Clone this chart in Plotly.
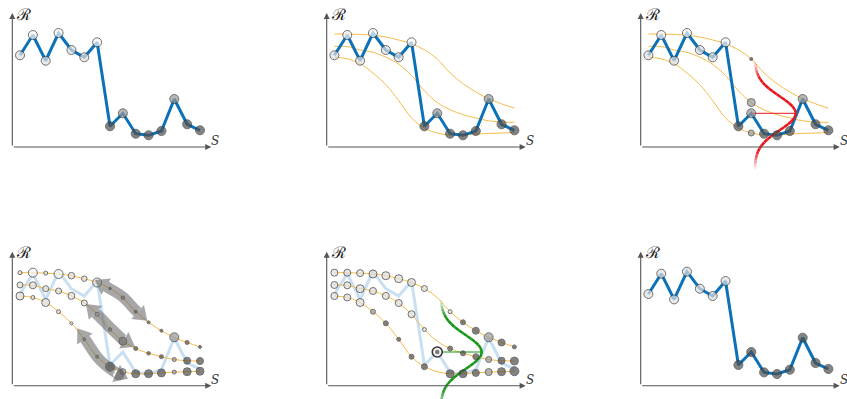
import numpy as np
import plotly.graph_objects as go

# ---------------- data ----------------
S = list(range(1, 16))
R_obs = [91.7, 112.0, 86.3, 114.0, 97.0, 89.7, 104.7, 20.7, 33.7, 13.3, 11.7, 16.0, 48.0, 22.7, 16.7]
tone_obs = [1, 0, 1, 0, 1, 1, 0, 3, 2, 3, 3, 3, 2, 3, 3]      # 0 white, 1 light, 2 mid, 3 dark
tone_final = [1, 1, 1, 1, 1, 1, 1, 3, 3, 3, 3, 3, 3, 3, 3]

curve_top = [113.0, 113.0, 112.6, 111.7, 110.0, 107.0, 103.2, 97.2, 88.0, 74.0, 63.4, 55.0, 48.4, 43.2, 38.8]
curve_mid = [100.7, 100.4, 97.0, 94.7, 89.8, 82.7, 71.5, 56.2, 44.5, 37.2, 32.4, 29.0, 26.2, 25.0, 24.7]
curve_bot = [89.7, 88.2, 83.2, 74.0, 62.4, 46.4, 29.0, 19.0, 14.0, 12.0, 12.0, 12.8, 13.6, 14.0, 14.5]

# panel 4 particle weights / tones
w4_top = [4, 9, 4, 9, 6.5, 5.5, 9, 2.5, 3.5, 3, 3, 3, 9, 4, 3]
t4_top = [1, 0, 1, 0, 1, 1, 1, 3, 2, 3, 3, 3, 2, 3, 3]
w4_mid = [6, 7, 6, 6, 7, 6, 4, 3.5, 8, 4, 3.5, 4, 4, 7, 7]
t4_mid = [1, 1, 1, 1, 1, 1, 1, 2, 2, 3, 3, 3, 2, 3, 3]
w4_bot = [8, 4, 8, 4, 3, 3, 3, 9, 6, 8, 8, 8, 4, 8, 8]
t4_bot = [1, 1, 1, 1, 1, 2, 2, 3, 2, 3, 3, 3, 2, 3, 3]

# panel 5 particle weights / tones
w5_top = [7, 7, 7, 8, 8, 8, 8, 6, 0, 4, 5, 7, 9, 7, 4]
t5_top = [1, 1, 1, 1, 1, 1, 1, 1, 1, 1, 3, 3, 2, 3, 3]
w5_mid = [7, 7, 8, 7, 7, 7, 7, 4, 0, 5, 5, 6, 6, 7, 8]
t5_mid = [1, 1, 1, 1, 1, 1, 1, 1, 1, 3, 3, 3, 2, 3, 3]
w5_bot = [7, 7, 8, 5, 5, 4, 5, 6, 0, 8, 8, 7, 7, 8, 9]
t5_bot = [1, 1, 1, 2, 3, 3, 3, 3, 3, 3, 3, 3, 2, 3, 3]

# panel 3 candidates at step 9 (top, mid, bottom)
cand_step = 9
w3_cand = [3, 8, 6]
t3_cand = [3, 2, 2]

# panel 4 curved exchange arrows (S, R)
arrowA_S = [6.83, 8.0, 9.0, 9.95, 10.9]
arrowA_R = [105.7, 96.8, 88.8, 76.0, 65.0]
arrowB_S = [6.13, 7.22, 8.26, 9.03, 9.95]
arrowB_R = [81.7, 68.4, 55.0, 45.7, 39.0]
arrowC_S = [5.46, 6.2, 7.1, 8.0, 8.7, 9.4]
arrowC_R = [57.4, 44.0, 27.4, 17.0, 11.0, 7.0]

# observation-likelihood gaussian (panels 3, 5)
gauss_sd = 17.0
gauss_base_S = 9.27
gauss_peak_S = 12.46

# ---------------- geometry ----------------
W, H = 847, 399
K = 12.857                     # px per S step
S0 = 1 - 7.7 / K               # S value at the y axis
ORIG = [(12.3, 147), (326.7, 147), (640.7, 147), (12.3, 385.7), (326.7, 385.7), (640.7, 385.7)]

TONE = ['#f8f8f8', '#e0e0e0', '#999999', '#4f4f4f']
EDGE = '#363636'
BLUE = '#0b72ba'
PALE = '#c8e0f1'
ORANGE = '#f5bb4a'

fig = go.Figure()
lay = {}
ann = []


def sfx(i):
    return '' if i == 1 else str(i)


for i, (ox, oy) in enumerate(ORIG, start=1):
    left = max(0, ox - 12)
    right = min(W, ox + 212)
    top, bot = (2, 172) if oy < 200 else (240, 399)
    lay['xaxis' + sfx(i)] = dict(domain=[left / W, right / W],
                                 range=[S0 + (left - ox) / K, S0 + (right - ox) / K],
                                 visible=False, anchor='y' + sfx(i), fixedrange=True)
    lay['yaxis' + sfx(i)] = dict(domain=[1 - bot / H, 1 - top / H], range=[oy - bot, oy - top],
                                 visible=False, anchor='x' + sfx(i), fixedrange=True)
    xr, yr = 'x' + sfx(i), 'y' + sfx(i)
    # axes with arrowheads
    ann.append(dict(x=S0 + 199 / K, y=0, ax=S0, ay=0, xref=xr, yref=yr, axref=xr, ayref=yr,
                    text='', showarrow=True, arrowhead=2, arrowsize=1.1, arrowwidth=1.1,
                    arrowcolor='#555555', standoff=0, startstandoff=0))
    ann.append(dict(x=S0, y=134, ax=S0, ay=0, xref=xr, yref=yr, axref=xr, ayref=yr,
                    text='', showarrow=True, arrowhead=2, arrowsize=1.1, arrowwidth=1.1,
                    arrowcolor='#555555', standoff=0, startstandoff=0))
    ann.append(dict(x=S0 + 2 / K, y=133, xref=xr, yref=yr, text='ℛ', showarrow=False,
                    xanchor='left', yanchor='middle',
                    font=dict(family='DejaVu Serif', size=16, color='#222')))
    ann.append(dict(x=S0 + 197 / K, y=6, xref=xr, yref=yr, text='<i>S</i>', showarrow=False,
                    xanchor='left', yanchor='middle',
                    font=dict(family='DejaVu Serif', size=12, color='#333')))


def ax(i):
    return dict(xaxis='x' + sfx(i), yaxis='y' + sfx(i))


def line(i, x, y, color, width, shape='linear'):
    fig.add_trace(go.Scatter(x=x, y=y, mode='lines', line=dict(color=color, width=width, shape=shape),
                             hoverinfo='skip', **ax(i)))


def dots(i, x, y, sizes, tones):
    keep = [k for k in range(len(x)) if sizes[k] > 0]
    fig.add_trace(go.Scatter(x=[x[k] for k in keep], y=[y[k] for k in keep], mode='markers',
                             marker=dict(size=[sizes[k] for k in keep],
                                         color=[TONE[tones[k]] for k in keep],
                                         line=dict(color=EDGE, width=1)),
                             hoverinfo='skip', **ax(i)))


def curves(i):
    for c in (curve_top, curve_mid, curve_bot):
        line(i, S, c, ORANGE, 1, 'spline')


def gaussian(i, rgb):
    mu = R_obs[cand_step - 1]
    amp = gauss_peak_S - gauss_base_S
    r = np.linspace(mu + 52, mu - 56, 217)
    s = gauss_base_S + amp * np.exp(-0.5 * ((r - mu) / gauss_sd) ** 2)
    d = mu - r
    alpha = np.clip(np.minimum((d + 52) / 17.0, (56 - d) / 18.0), 0, 1)
    step = 6
    for k in range(0, len(r) - 1, step):
        seg = slice(k, min(k + step + 1, len(r)))
        a = float(alpha[k:k + step + 1].mean())
        if a <= 0.01:
            continue
        line(i, s[seg], r[seg], 'rgba(%d,%d,%d,%.3f)' % (rgb + (a,)), 2.6)
    line(i, [cand_step, gauss_peak_S], [mu, mu], 'rgb(%d,%d,%d)' % rgb, 1)


def arrow(i, ps, pr, color):
    P = np.array([[(a - S0) * K, b] for a, b in zip(ps, pr)])
    L, hw = 13.0, 9.5

    def head(tip, prev):
        d = tip - prev
        d = d / np.hypot(*d)
        base = tip - L * d
        n = np.array([-d[1], d[0]])
        tri = np.array([tip, base + hw * n, base - hw * n, tip])
        return base, tri

    b0, tri0 = head(P[0], P[1])
    b1, tri1 = head(P[-1], P[-2])
    shaft = np.vstack([b0, P[1:-1], b1])
    line(i, shaft[:, 0] / K + S0, shaft[:, 1], color, 11, 'spline')
    for tri in (tri0, tri1):
        fig.add_trace(go.Scatter(x=tri[:, 0] / K + S0, y=tri[:, 1], mode='lines', fill='toself',
                                 fillcolor=color, line=dict(width=0, color=color),
                                 hoverinfo='skip', **ax(i)))


# panel 1
line(1, S, R_obs, BLUE, 3)
dots(1, S, R_obs, [9] * 15, tone_obs)

# panel 2
curves(2)
line(2, S, R_obs, BLUE, 3)
dots(2, S, R_obs, [9] * 15, tone_obs)

# panel 3
curves(3)
line(3, S, R_obs, BLUE, 3)
gaussian(3, (232, 22, 28))
dots(3, S, R_obs, [9] * 15, tone_obs)
cs = cand_step - 1
dots(3, [cand_step] * 3, [curve_top[cs], curve_mid[cs], curve_bot[cs]], w3_cand, t3_cand)

# panel 4
line(4, S, R_obs, PALE, 3)
curves(4)
dots(4, S, curve_top, w4_top, t4_top)
dots(4, S, curve_mid, w4_mid, t4_mid)
dots(4, S, curve_bot, w4_bot, t4_bot)
GREY = 'rgba(95,95,95,0.55)'
arrow(4, arrowA_S, arrowA_R, GREY)
arrow(4, arrowB_S, arrowB_R, GREY)
arrow(4, arrowC_S, arrowC_R, GREY)

# panel 5
line(5, S, R_obs, PALE, 3)
curves(5)
gaussian(5, (22, 150, 22))
dots(5, S, curve_top, w5_top, t5_top)
dots(5, S, curve_mid, w5_mid, t5_mid)
dots(5, S, curve_bot, w5_bot, t5_bot)
fig.add_trace(go.Scatter(x=[cand_step], y=[R_obs[cs]], mode='markers',
                         marker=dict(size=10, color='#f4f4f4', line=dict(color=EDGE, width=1.6)),
                         hoverinfo='skip', **ax(5)))
fig.add_trace(go.Scatter(x=[cand_step], y=[R_obs[cs]], mode='markers',
                         marker=dict(size=4.5, color='#7a7a7a', line=dict(width=0)),
                         hoverinfo='skip', **ax(5)))

# panel 6
line(6, S, R_obs, BLUE, 3)
dots(6, S, R_obs, [9] * 15, tone_final)

fig.update_layout(width=W, height=H, margin=dict(l=0, r=0, t=0, b=0),
                  paper_bgcolor='white', plot_bgcolor='rgba(0,0,0,0)',
                  showlegend=False, annotations=ann, **lay)
fig.write_html('out.html', config={'displayModeBar': False},
               post_script="document.body.style.margin='0';document.body.style.overflow='hidden';")
